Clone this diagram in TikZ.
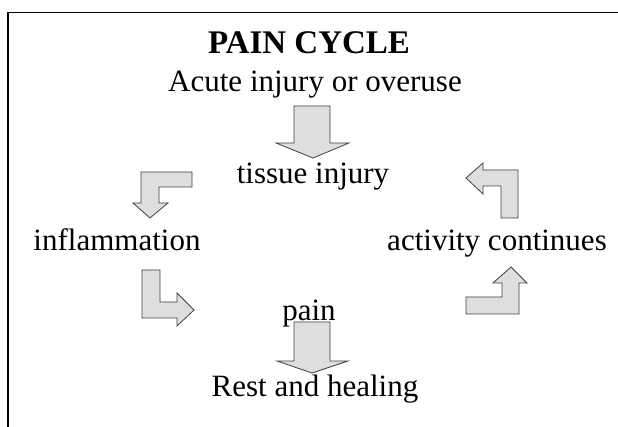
\documentclass[tikz,border=0pt]{standalone}
\usepackage{fontspec}
\setmainfont{Liberation Serif}
\usetikzlibrary{positioning}

\tikzset{
  blockarrow/.style={fill=black!13, draw=black!75, line width=0.8pt, line join=miter},
  lbl/.style={font=\fontsize{31}{34}\selectfont, inner sep=0pt, anchor=base}
}

\begin{document}
\begin{tikzpicture}[x=1pt, y=-1pt]
  \useasboundingbox (0,0) rectangle (618,427);
  % frame (only top and left edges are in view)
  \draw[line width=1.6pt] (8,427) -- (8,12.5) -- (618,12.5);

  % title and labels
  \node[lbl, font=\fontsize{33}{36}\selectfont\bfseries] (title) at (309,54) {PAIN CYCLE};
  \node[lbl] (cause) at (315,92) {Acute injury or overuse};
  \node[lbl] (tissue) at (313,184) {tissue injury};
  \node[lbl] (inflam) at (117,251) {inflammation};
  \node[lbl] (activity) at (497,251) {activity continues};
  \node[lbl] (pain) at (309,321) {pain};
  \node[lbl] (rest) at (315,396) {Rest and healing};

  % block arrows of the cycle
  \draw[blockarrow] (294,106) -- (330,106) -- (330,143) -- (349,143) -- (313,158) -- (276,143) -- (294,143) -- cycle;
  \draw[blockarrow] (192,172) -- (141,172) -- (141,203) -- (133,203) -- (150,218) -- (168,203) -- (159,203) -- (159,187) -- (192,187) -- cycle;
  \draw[blockarrow] (142,270) -- (160,270) -- (160,302) -- (177,302) -- (177,293) -- (194,310) -- (177,326) -- (177,318) -- (142,318) -- cycle;
  \draw[blockarrow] (294,322) -- (330,322) -- (330,361) -- (348,361) -- (312,373) -- (277,361) -- (294,361) -- cycle;
  \draw[blockarrow] (466,314) -- (519,314) -- (519,283) -- (527,283) -- (511,267) -- (493,283) -- (502,283) -- (502,297) -- (466,297) -- cycle;
  \draw[blockarrow] (466,178) -- (483,163) -- (483,170) -- (518,170) -- (518,218) -- (501,218) -- (501,186) -- (483,186) -- (483,194) -- cycle;
\end{tikzpicture}
\end{document}
